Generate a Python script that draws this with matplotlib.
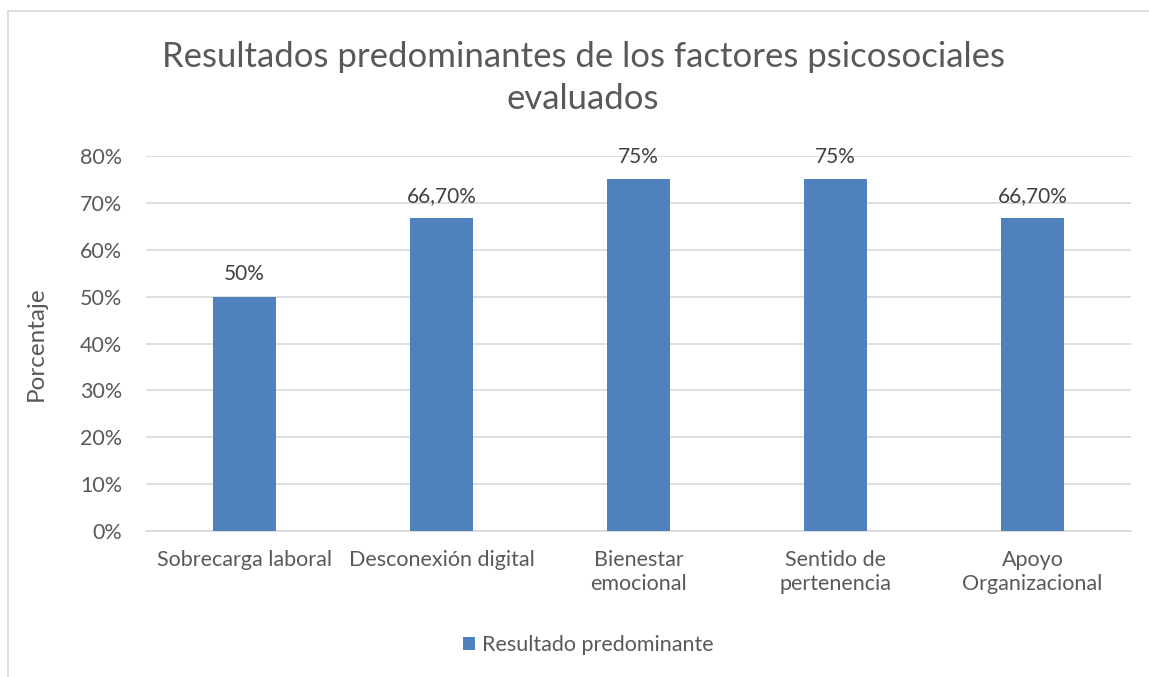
import matplotlib.pyplot as plt
from matplotlib.patches import Rectangle
import numpy as np

categorias = ['Sobrecarga laboral', 'Desconexión digital', 'Bienestar\nemocional',
              'Sentido de\npertenencia', 'Apoyo\nOrganizacional']
valores = [0.50, 0.667, 0.75, 0.75, 0.667]
etiquetas = ['50%', '66,70%', '75%', '75%', '66,70%']
ticks_y = [0, 0.1, 0.2, 0.3, 0.4, 0.5, 0.6, 0.7, 0.8]

gris = '#595959'
azul = '#4F81BD'
plt.rcParams['font.family'] = ['Lato', 'DejaVu Sans']

fig = plt.figure(figsize=(11.49, 6.77), dpi=100)
# marco del grafico
fig.patches.append(Rectangle((8/1149, -0.1), 1.2, 1 - 11/677 + 0.1, transform=fig.transFigure,
                             fill=False, edgecolor='#D9D9D9', linewidth=1.2))

ax = fig.add_axes([146/1149, 1 - 531/677, (1131 - 146)/1149, (531 - 156)/677])
x = np.arange(len(categorias))
barras = ax.bar(x, valores, width=0.315, color=azul, label='Resultado predominante', zorder=3)
for xi, v, t in zip(x, valores, etiquetas):
    ax.annotate(t, (xi, v), xytext=(0, 9), textcoords='offset points', ha='center', va='bottom',
                fontsize=15, color='#404040')

ax.set_xlim(-0.5, 4.5)
ax.set_ylim(0, 0.8)
ax.set_yticks(ticks_y)
ax.set_yticklabels(['%d%%' % round(t * 100) for t in ticks_y])
ax.set_xticks(x)
ax.set_xticklabels(categorias, linespacing=1.25)
ax.tick_params(axis='both', length=0, labelsize=15.5, colors=gris)
ax.tick_params(axis='y', pad=17)
ax.tick_params(axis='x', pad=14)
ax.grid(axis='y', color='#D9D9D9', linewidth=1.2, zorder=0)
for s in ['top', 'right', 'left']:
    ax.spines[s].set_visible(False)
ax.spines['bottom'].set_color('#D9D9D9')
ax.spines['bottom'].set_linewidth(1.2)
ax.set_ylabel('Porcentaje', fontsize=17.5, color=gris, labelpad=24)

fig.text(583/1149, 1 - 78/677, 'Resultados predominantes de los factores psicosociales\nevaluados',
         ha='center', va='center', fontsize=25, color=gris, linespacing=1.35)

fig.legend(handles=[barras], loc='center', bbox_to_anchor=(588/1149, 1 - 645/677), frameon=False,
           fontsize=15.5, labelcolor=gris, handlelength=0.6, handleheight=0.6, handletextpad=0.3)

fig.savefig('out.png', dpi=100)
